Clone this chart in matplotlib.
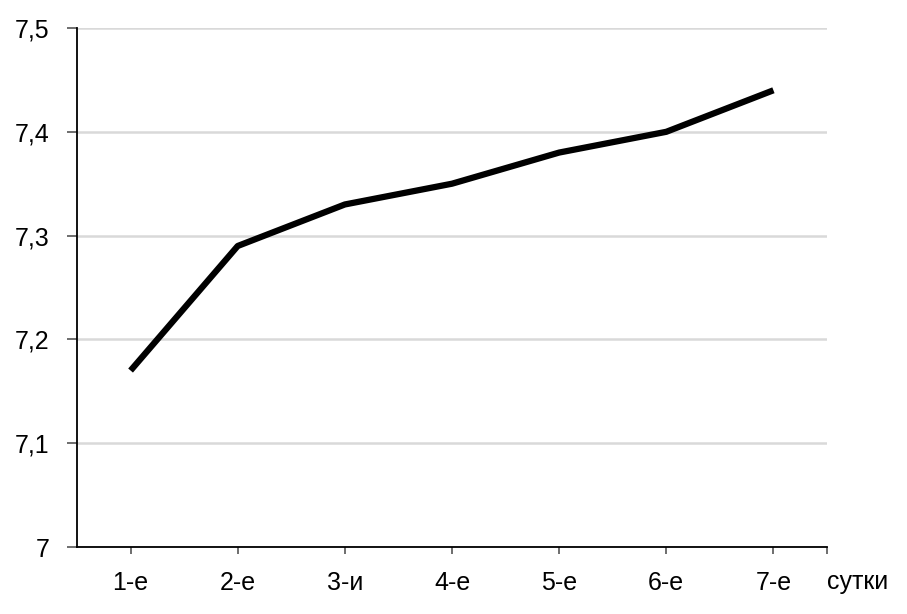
import matplotlib.pyplot as plt

# values
days = ['1-е', '2-е', '3-и', '4-е', '5-е', '6-е', '7-е']
ph = [7.17, 7.29, 7.33, 7.35, 7.38, 7.40, 7.44]
yticks = [7.0, 7.1, 7.2, 7.3, 7.4, 7.5]
ylabels = ['7', '7,1', '7,2', '7,3', '7,4', '7,5']

plt.rcParams['font.family'] = ['Liberation Sans', 'DejaVu Sans']

fig = plt.figure(figsize=(9.07, 6.14), dpi=100)
ax = fig.add_axes([0.0849, 0.1091, 0.8269, 0.8453])

x = list(range(len(days)))
ax.plot(x, ph, color='black', linewidth=4.5, solid_capstyle='butt', zorder=3)

ax.set_xlim(-0.5, len(days) - 0.5)
ax.set_ylim(7.0, 7.5)

# gridlines
ax.set_yticks(yticks)
ax.set_yticklabels(ylabels, fontsize=18)
ax.yaxis.grid(True, color='#d9d9d9', linewidth=1.8)
ax.set_axisbelow(True)

# category ticks plus one at the right end of the axis
ax.set_xticks(x + [len(days) - 0.5])
ax.set_xticklabels(days + [''], fontsize=18)
ax.text(len(days) - 0.5, -0.045, 'сутки', transform=ax.get_xaxis_transform(),
        ha='left', va='top', fontsize=18)

ax.tick_params(axis='y', length=7, width=1.2, pad=13, color='#555555')
ax.tick_params(axis='x', length=5, width=1.2, pad=12, color='#555555')

for side in ['top', 'right']:
    ax.spines[side].set_visible(False)
ax.spines['left'].set_linewidth(1.3)
ax.spines['bottom'].set_linewidth(1.3)

fig.savefig('out.png', dpi=100)
